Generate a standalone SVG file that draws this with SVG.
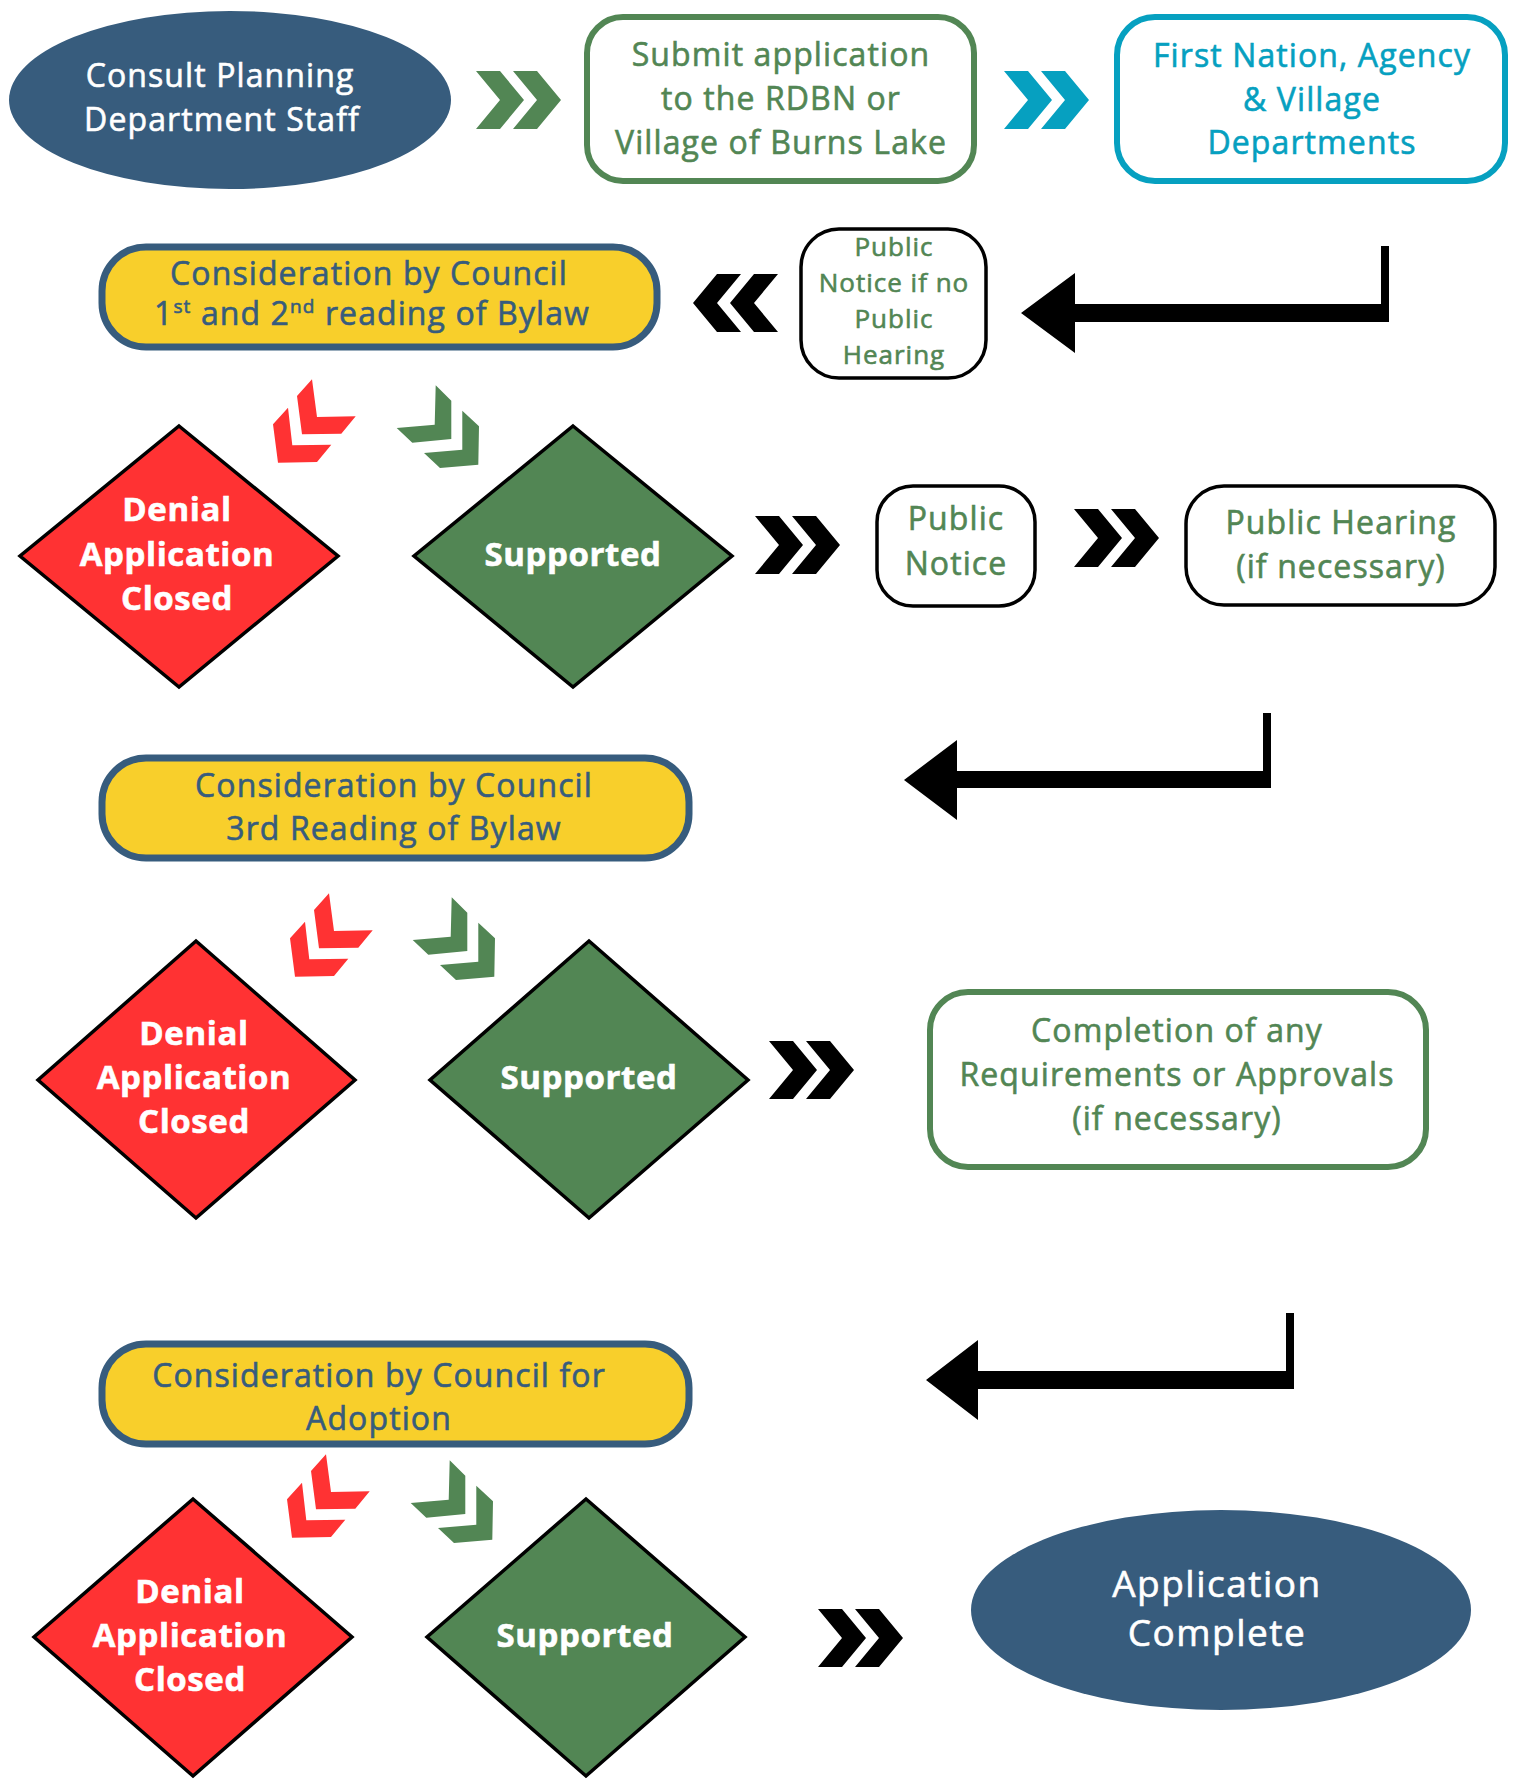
<svg xmlns="http://www.w3.org/2000/svg" xmlns:xlink="http://www.w3.org/1999/xlink" width="1519" height="1785" viewBox="0 0 1519 1785">
<style>
.t{font-family:"Open Sans","Liberation Sans",sans-serif;text-anchor:middle;stroke-width:0.6px}
.r{font-size:32px;letter-spacing:1.1px}
.s{font-size:26px;letter-spacing:1px}
.b{font-size:33px;font-weight:bold;letter-spacing:0.6px;fill:#fff;stroke:#fff}
.w{fill:#fff;stroke:#fff}
.g{fill:#528654;stroke:#528654}
.bl{fill:#375c7d;stroke:#375c7d}
.tl{fill:#06a0c0;stroke:#06a0c0}
.yel{fill:#f8cf2b;stroke:#375c7d;stroke-width:7}
.gbox{fill:#fff;stroke:#528654;stroke-width:6}
.tbox{fill:#fff;stroke:#06a0c0;stroke-width:6}
.kbox{fill:#fff;stroke:#000;stroke-width:3.5}
.red{fill:#ff3233;stroke:#000;stroke-width:3.5}
.grn{fill:#528654;stroke:#000;stroke-width:3.5}
</style>
<defs>
<path id="dbl" d="M0,0 H24 L48,29 L24,58 H0 L24,29 Z M37,0 H61 L85,29 L61,58 H37 L61,29 Z"/>
<path id="redL" d="M0,45.3 L15,28.7 L19.3,66.3 L58.3,65.7 L44,83 L5,83.7 Z M24,17 L39,0.3 L44,38 L82.7,37.3 L68.3,54.7 L29,55.3 Z"/>
<path id="grnR" d="M39.7,0.3 L55.3,15.7 L55.3,54 L16.3,57.7 L0.7,43 L38.7,39.7 Z M66.3,25.7 L83,41.3 L82.3,79.7 L44,83 L28,68 L66.3,64.7 Z"/>
</defs>
<rect width="1519" height="1785" fill="#fff"/>

<g id="connectors">
<use xlink:href="#dbl" x="476" y="71" fill="#528654"/>
<use xlink:href="#dbl" x="1004" y="71" fill="#06a0c0"/>
<use xlink:href="#dbl" transform="translate(778,274) scale(-1,1)" fill="#000"/>
<polygon points="1021,313 1075,273 1075,304 1381,304 1381,246 1389,246 1389,322 1075,322 1075,353" fill="#000"/>
<use xlink:href="#redL" transform="translate(273,379)" fill="#ff3233"/>
<use xlink:href="#grnR" transform="translate(396,385)" fill="#528654"/>
<use xlink:href="#dbl" x="755" y="516" fill="#000"/>
<use xlink:href="#dbl" x="1074" y="509" fill="#000"/>
<polygon points="904,780 957,740 957,771 1263,771 1263,713 1271,713 1271,788 957,788 957,820" fill="#000"/>
<use xlink:href="#redL" transform="translate(290,893)" fill="#ff3233"/>
<use xlink:href="#grnR" transform="translate(412,897)" fill="#528654"/>
<use xlink:href="#dbl" x="769" y="1041" fill="#000"/>
<polygon points="926,1380 978,1340 978,1371 1286,1371 1286,1313 1294,1313 1294,1389 978,1389 978,1420" fill="#000"/>
<use xlink:href="#redL" transform="translate(287,1454)" fill="#ff3233"/>
<use xlink:href="#grnR" transform="translate(410,1460)" fill="#528654"/>
<use xlink:href="#dbl" x="818" y="1609" fill="#000"/>
</g>

<g id="consult">
<ellipse cx="230" cy="100" rx="221" ry="89" fill="#375c7d"/>
<text class="t r w" x="220" y="87">Consult Planning</text>
<text class="t r w" x="222" y="131">Department Staff</text>
</g>

<g id="submit">
<rect class="gbox" x="587" y="17" width="387" height="164" rx="36"/>
<text class="t r g" x="781" y="66">Submit application</text>
<text class="t r g" x="781" y="110">to the RDBN or</text>
<text class="t r g" x="781" y="154">Village of Burns Lake</text>
</g>

<g id="firstnation">
<rect class="tbox" x="1117" y="17" width="388" height="164" rx="38"/>
<text class="t r tl" x="1312" y="67">First Nation, Agency</text>
<text class="t r tl" x="1312" y="111">&amp; Village</text>
<text class="t r tl" x="1312" y="154">Departments</text>
</g>

<g id="council1">
<rect class="yel" x="102" y="247" width="555" height="100" rx="44"/>
<text class="t r bl" x="369" y="285">Consideration by Council</text>
<text class="t r bl" x="372" y="325">1<tspan font-size="19" dy="-12">st</tspan><tspan dy="12"> and 2</tspan><tspan font-size="19" dy="-12">nd</tspan><tspan dy="12"> reading of Bylaw</tspan></text>
</g>

<g id="noticeNoHearing">
<rect class="kbox" x="801" y="229" width="185" height="149" rx="38"/>
<text class="t s g" x="894" y="256">Public</text>
<text class="t s g" x="894" y="292">Notice if no</text>
<text class="t s g" x="894" y="328">Public</text>
<text class="t s g" x="894" y="364">Hearing</text>
</g>

<g id="denial1">
<polygon class="red" points="179,426 338,556 179,687 20,556"/>
<text class="t b" x="177" y="521">Denial</text>
<text class="t b" x="177" y="566">Application</text>
<text class="t b" x="177" y="610">Closed</text>
</g>

<g id="supported1">
<polygon class="grn" points="573,426 732,556 573,687 414,556"/>
<text class="t b" x="573" y="566">Supported</text>
</g>

<g id="publicNotice">
<rect class="kbox" x="877" y="486" width="158" height="120" rx="36"/>
<text class="t r g" x="956" y="530">Public</text>
<text class="t r g" x="956" y="575">Notice</text>
</g>

<g id="publicHearing">
<rect class="kbox" x="1186" y="486" width="309" height="119" rx="38"/>
<text class="t r g" x="1341" y="534">Public Hearing</text>
<text class="t r g" x="1341" y="578">(if necessary)</text>
</g>

<g id="council2">
<rect class="yel" x="102" y="758" width="587" height="100" rx="44"/>
<text class="t r bl" x="394" y="797">Consideration by Council</text>
<text class="t r bl" x="394" y="840">3rd Reading of Bylaw</text>
</g>

<g id="denial2">
<polygon class="red" points="196,941 355,1080 196,1218 38,1080"/>
<text class="t b" x="194" y="1045">Denial</text>
<text class="t b" x="194" y="1089">Application</text>
<text class="t b" x="194" y="1133">Closed</text>
</g>

<g id="supported2">
<polygon class="grn" points="589,941 748,1080 589,1218 430,1080"/>
<text class="t b" x="589" y="1089">Supported</text>
</g>

<g id="completion">
<rect class="gbox" x="930" y="992" width="496" height="175" rx="38"/>
<text class="t r g" x="1177" y="1042">Completion of any</text>
<text class="t r g" x="1177" y="1086">Requirements or Approvals</text>
<text class="t r g" x="1177" y="1130">(if necessary)</text>
</g>

<g id="council3">
<rect class="yel" x="102" y="1344" width="587" height="100" rx="44"/>
<text class="t r bl" x="379" y="1387">Consideration by Council for</text>
<text class="t r bl" x="379" y="1430">Adoption</text>
</g>

<g id="denial3">
<polygon class="red" points="193,1499 352,1637 193,1776 34,1637"/>
<text class="t b" x="190" y="1603">Denial</text>
<text class="t b" x="190" y="1647">Application</text>
<text class="t b" x="190" y="1691">Closed</text>
</g>

<g id="supported3">
<polygon class="grn" points="586,1499 745,1637 586,1776 427,1637"/>
<text class="t b" x="585" y="1647">Supported</text>
</g>

<g id="complete">
<ellipse cx="1221" cy="1610" rx="250" ry="100" fill="#375c7d"/>
<text class="t w" x="1217" y="1597" font-size="37" letter-spacing="1.5">Application</text>
<text class="t w" x="1217" y="1646" font-size="37" letter-spacing="1.5">Complete</text>
</g>
</svg>
